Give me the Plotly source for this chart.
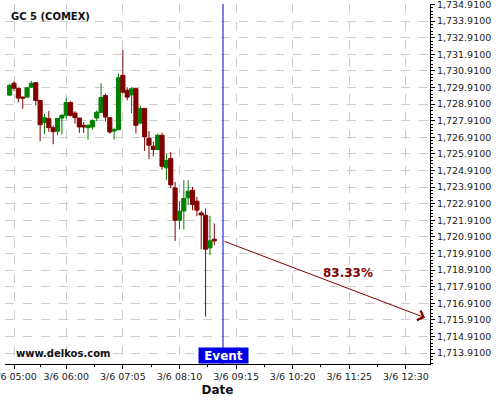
import pandas as pd
import plotly.graph_objects as go

# Candle data (5 minute bars, 3/6)
start_time = "2020-03-06 04:55"
opens = [1729.45, 1730.17, 1729.87, 1729.33, 1729.33, 1729.93, 1730.20, 1729.13, 1727.79, 1728.03,
         1727.49, 1727.27, 1728.07, 1728.23, 1729.00, 1728.37, 1728.07, 1727.63, 1727.49, 1727.53,
         1728.07, 1728.41, 1729.43, 1728.09, 1727.29, 1727.37, 1730.64, 1729.74, 1729.46, 1729.84,
         1727.77, 1728.65, 1726.85, 1726.37, 1726.17, 1727.03, 1725.07, 1725.63, 1723.86, 1721.91,
         1722.47, 1723.26, 1723.72, 1723.06, 1722.35, 1722.21, 1720.25, 1720.77]
highs = [1730.14, 1730.28, 1729.89, 1729.37, 1729.93, 1730.30, 1730.20, 1729.13, 1728.33, 1728.49,
         1727.63, 1728.07, 1728.33, 1729.30, 1729.09, 1728.49, 1728.07, 1727.83, 1727.69, 1727.97,
         1728.53, 1730.17, 1729.54, 1728.09, 1727.49, 1730.74, 1732.18, 1729.92, 1729.93, 1729.86,
         1728.82, 1728.65, 1727.29, 1726.65, 1727.13, 1727.17, 1725.93, 1726.03, 1724.22, 1723.08,
         1724.32, 1724.32, 1723.92, 1723.32, 1722.47, 1722.62, 1722.17, 1721.72]
lows = [1729.39, 1729.69, 1729.01, 1728.63, 1729.30, 1729.90, 1728.83, 1726.67, 1727.09, 1727.23,
        1726.49, 1727.03, 1727.07, 1728.03, 1728.17, 1727.73, 1727.17, 1727.17, 1726.77, 1727.37,
        1727.87, 1728.37, 1727.87, 1727.13, 1726.77, 1727.33, 1729.54, 1729.13, 1728.37, 1727.13,
        1727.69, 1726.08, 1725.60, 1725.76, 1726.13, 1724.96, 1724.34, 1723.84, 1720.67, 1721.35,
        1721.35, 1722.82, 1722.52, 1722.15, 1720.17, 1716.10, 1719.81, 1720.41]
closes = [1730.04, 1729.87, 1729.27, 1729.27, 1729.90, 1730.17, 1729.13, 1727.67, 1728.09, 1727.49,
          1727.25, 1728.05, 1728.23, 1729.00, 1728.23, 1728.09, 1727.53, 1727.53, 1727.63, 1727.93,
          1728.41, 1729.30, 1728.13, 1727.23, 1727.37, 1730.50, 1729.63, 1729.33, 1729.84, 1727.63,
          1728.65, 1726.93, 1726.43, 1726.17, 1727.03, 1725.16, 1725.52, 1724.04, 1721.91, 1722.46,
          1723.22, 1723.66, 1722.86, 1722.52, 1722.23, 1720.17, 1720.67, 1720.67]
times = pd.date_range(start=start_time, periods=len(opens), freq="5min")

# Event and forecast
event_time = "2020-03-06 09:00"
target_time = "2020-03-06 12:52"
target_price = 1716.04
label_time = "2020-03-06 11:23"
label_price = 1718.72
probability = "83.33%"

# Axis ticks
x_tickvals = ["2020-03-06 05:00", "2020-03-06 06:00", "2020-03-06 07:05", "2020-03-06 08:10",
              "2020-03-06 09:15", "2020-03-06 10:20", "2020-03-06 11:25", "2020-03-06 12:30"]
x_ticktext = ["3/6 05:00", "3/6 06:00", "3/6 07:05", "3/6 08:10",
              "3/6 09:15", "3/6 10:20", "3/6 11:25", "3/6 12:30"]
x_range = ["2020-03-06 04:49:40", "2020-03-06 12:57:40"]
y_range = [1713.25, 1734.94]

# minor x ticks halfway between the labelled ones
tick_ts = pd.to_datetime(x_tickvals)
x_minor = [str(a + (b - a) / 2) for a, b in zip(tick_ts[:-1], tick_ts[1:])]

RED = "#800000"
GREEN = "#008000"
BLUE = "#0000e6"

# 1. Candles
fig = go.Figure(go.Candlestick(
    x=times, open=opens, high=highs, low=lows, close=closes,
    increasing=dict(line=dict(color=GREEN, width=1), fillcolor=GREEN),
    decreasing=dict(line=dict(color=RED, width=1), fillcolor=RED),
    whiskerwidth=0,
    showlegend=False,
))

# 2. Event line and label
fig.add_shape(type="line", x0=event_time, x1=event_time, y0=0, y1=1,
              xref="x", yref="paper", line=dict(color=BLUE, width=1))
fig.add_annotation(x=event_time, y=0, xref="x", yref="paper", yanchor="bottom",
                   text="<b>Event</b>", showarrow=False, bgcolor=BLUE,
                   width=49, height=15, borderpad=0,
                   font=dict(color="white", size=12, family="DejaVu Sans"))

# 3. Forecast arrow
fig.add_annotation(x=target_time, y=target_price, ax=event_time, ay=closes[-1],
                   xref="x", yref="y", axref="x", ayref="y", text="",
                   showarrow=True, arrowhead=4, arrowsize=2, arrowwidth=1,
                   arrowcolor=RED, standoff=0, startstandoff=0)
fig.add_annotation(x=label_time, y=label_price, text="<b>" + probability + "</b>",
                   showarrow=False, font=dict(color=RED, size=12, family="DejaVu Sans"))

# 4. Title and watermark
fig.add_annotation(x=0.01, y=0.965, xref="paper", yref="paper", xanchor="left", yanchor="middle",
                   text="<b>GC 5 (COMEX)</b>", showarrow=False,
                   font=dict(color="#111111", size=10, family="DejaVu Sans"))
fig.add_annotation(x=0.021, y=0.028, xref="paper", yref="paper", xanchor="left", yanchor="middle",
                   text="<b>www.delkos.com</b>", showarrow=False,
                   font=dict(color="#111111", size=10, family="DejaVu Sans"))

# 5. Layout
fig.update_layout(
    width=500,
    height=400,
    margin=dict(l=5, r=70, t=4, b=36),
    paper_bgcolor="white",
    plot_bgcolor="white",
    boxgap=0.05,
    boxgroupgap=0,
    font=dict(family="DejaVu Sans", size=10, color="#222222"),
    xaxis=dict(
        type="date",
        range=x_range,
        rangeslider=dict(visible=False),
        tickmode="array",
        tickvals=x_tickvals,
        ticktext=x_ticktext,
        tickfont=dict(size=9.5),
        ticklabeloverflow="allow",
        ticks="outside",
        ticklen=4,
        tickcolor="black",
        showline=True,
        linecolor="black",
        showgrid=True,
        gridcolor="#cccccc",
        griddash="dash",
        zeroline=False,
        automargin=False,
        minor=dict(tickmode="array", tickvals=x_minor, ticks="outside", ticklen=2,
                   tickcolor="black", showgrid=False),
        title=dict(text="<b>Date</b>", font=dict(size=12, color="#111111"), standoff=4),
    ),
    yaxis=dict(
        side="right",
        range=y_range,
        tick0=1713.91,
        dtick=1,
        tickformat=",.4f",
        tickfont=dict(size=9.5),
        ticklabeloverflow="allow",
        ticks="outside",
        ticklen=4,
        tickcolor="black",
        showline=True,
        linecolor="black",
        showgrid=True,
        gridcolor="#cccccc",
        griddash="dash",
        zeroline=False,
        automargin=False,
        minor=dict(dtick=0.2, tick0=1713.91, ticks="outside", ticklen=2,
                   tickcolor="black", showgrid=False),
    ),
)

# the page body has a default margin, drop it so the chart sits at the corner
fig.write_html("out.html", config={"displayModeBar": False},
               post_script="document.body.style.margin = '0';")
